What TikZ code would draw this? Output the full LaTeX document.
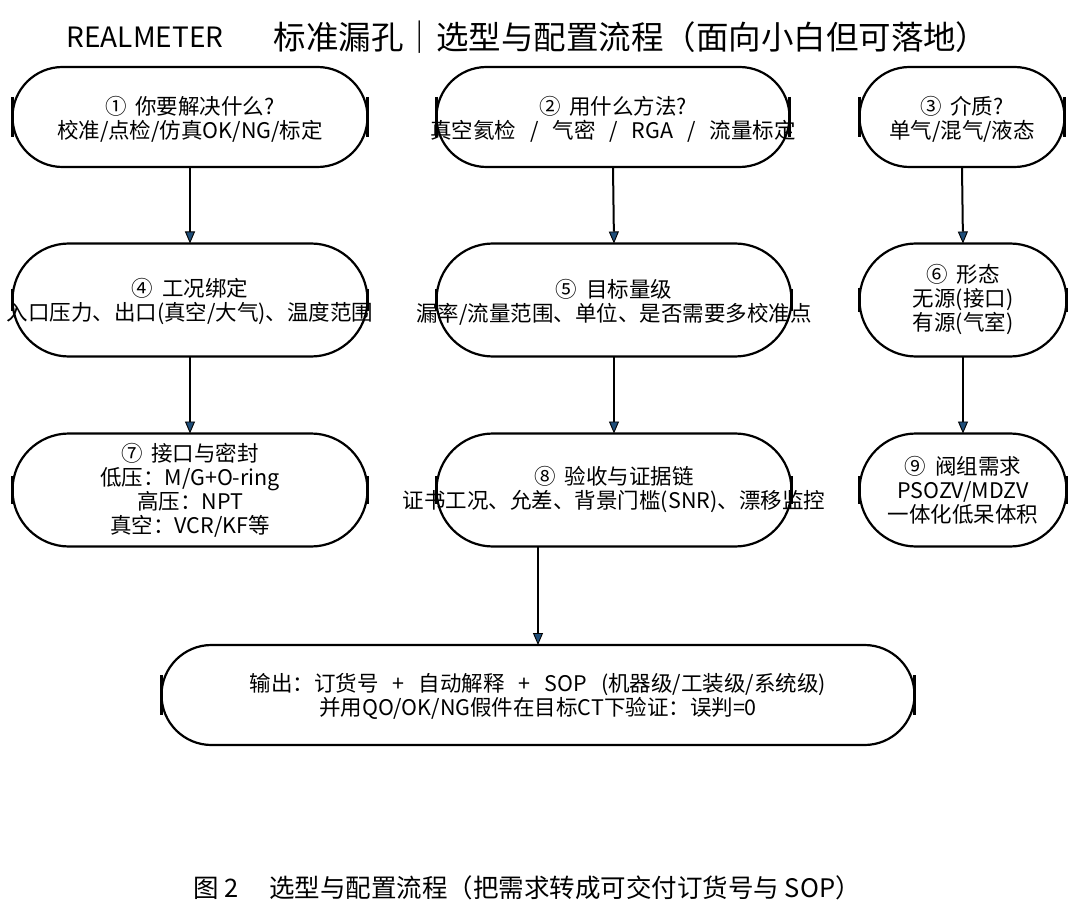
\documentclass[tikz,border=0pt]{standalone}
\usepackage{fontspec}
\setmainfont{Noto Sans CJK SC}
\usetikzlibrary{shapes.misc,arrows.meta}
\definecolor{tipblue}{RGB}{31,78,121}
\newcommand\gsp{\hspace{0.65em}}
\newcommand\csp{\hspace{0.4em}}
\newcommand\stadbars[2]{%
  \draw[bar] ([yshift=#2]#1.west) -- ([yshift=-#2]#1.west);
  \draw[bar] ([yshift=#2]#1.east) -- ([yshift=-#2]#1.east);}
\begin{document}
\begin{tikzpicture}[x=1pt,y=-1pt,
  stadium/.style={rounded rectangle, draw, line width=2.2pt, inner sep=0pt, outer sep=0pt},
  txt/.style={align=center, inner sep=0pt, font=\fontsize{21.5}{24}\selectfont},
  bar/.style={line width=3pt},
  arr/.style={line width=2pt, -{Triangle[width=10pt,length=12pt,line width=0.9pt,fill=tipblue]}}]
\useasboundingbox (0,0) rectangle (1080,920);
\fill[white] (0,0) rectangle (1080,920);

% title
\node[inner sep=0pt, font=\fontsize{28}{32}\selectfont] (tl) at (145,37) {REALMETER};
\node[inner sep=0pt, font=\fontsize{32.5}{36}\selectfont] (tt) at (631,37) {标准漏孔｜选型与配置流程（面向小白但可落地）};

% row 1
\node[stadium, minimum width=355pt, minimum height=100pt] (n1) at (190,117) {};
\node[stadium, minimum width=353pt, minimum height=100pt] (n2) at (613,117) {};
\node[stadium, minimum width=205pt, minimum height=100pt] (n3) at (962,117) {};
% row 2
\node[stadium, minimum width=355pt, minimum height=113pt] (n4) at (190,300) {};
\node[stadium, minimum width=355pt, minimum height=113pt] (n5) at (614,300) {};
\node[stadium, minimum width=207pt, minimum height=113pt] (n6) at (963,300) {};
% row 3
\node[stadium, minimum width=355pt, minimum height=113pt] (n7) at (190,490) {};
\node[stadium, minimum width=355pt, minimum height=113pt] (n8) at (614,490) {};
\node[stadium, minimum width=207pt, minimum height=113pt] (n9) at (963,490) {};
% output
\node[stadium, minimum width=753pt, minimum height=100pt] (out) at (538,695) {};

\stadbars{n1}{20pt}\stadbars{n2}{20pt}\stadbars{n3}{20pt}
\stadbars{n4}{11pt}\stadbars{n5}{11pt}\stadbars{n6}{12pt}
\stadbars{n7}{14pt}\stadbars{n8}{14pt}\stadbars{n9}{14pt}
\stadbars{out}{20pt}

% texts
\node[txt] (t1) at ([yshift=-2pt]n1.center) {①\csp 你要解决什么?\\校准/点检/仿真OK/NG/标定};
\node[txt] (t2) at ([yshift=-2pt]n2.center) {②\csp 用什么方法?\\真空氦检\gsp/\gsp 气密\gsp/\gsp RGA\gsp/\gsp 流量标定};
\node[txt] (t3) at ([yshift=-2pt]n3.center) {③\csp 介质?\\单气/混气/液态};
\node[txt] (t4) at ([yshift=-2pt]n4.center) {④\csp 工况绑定\\入口压力、出口(真空/大气)、温度范围};
\node[txt] (t5) at ([yshift=-2pt]n5.center) {⑤\csp 目标量级\\漏率/流量范围、单位、是否需要多校准点};
\node[txt] (t6) at (n6.center) {⑥\csp 形态\\无源(接口)\\有源(气室)};
\node[txt] (t7) at (n7.center) {⑦\csp 接口与密封\\低压：M/G+O-ring\\高压：NPT\\真空：VCR/KF等};
\node[txt] (t8) at (n8.center) {⑧\csp 验收与证据链\\证书工况、允差、背景门槛(SNR)、漂移监控};
\node[txt] (t9) at (n9.center) {⑨\csp 阀组需求\\PSOZV/MDZV\\一体化低呆体积};
\node[txt] (tout) at ([yshift=-1pt]out.center) {输出：订货号\gsp+\gsp 自动解释\gsp+\gsp SOP\gsp(机器级/工装级/系统级)\\并用QO/OK/NG假件在目标CT下验证：误判=0};

% arrows
\draw[arr] (n1.south) -- (n4.north);
\draw[arr] (n2.south) -- (n5.north);
\draw[arr] (n3.south) -- (n6.north);
\draw[arr] (n4.south) -- (n7.north);
\draw[arr] (n5.south) -- (n8.north);
\draw[arr] (n6.south) -- (n9.north);
\draw[arr] (n8.south -| out.north) -- (out.north);

% caption
\node[inner sep=0pt, font=\fontsize{25.5}{28}\selectfont] (cap) at (527,888) {图 2\hspace{1.2em}选型与配置流程（把需求转成可交付订货号与 SOP）};
\end{tikzpicture}
\end{document}
